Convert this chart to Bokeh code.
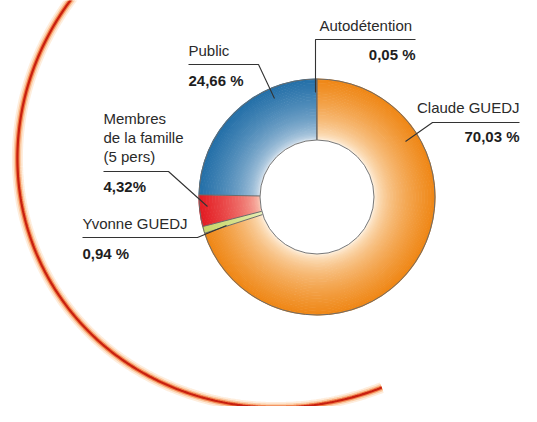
import numpy as np
from bokeh.plotting import figure
from bokeh.models import Range1d
from bokeh.core.properties import value
from bokeh.embed import file_html
from bokeh.resources import INLINE

# ---------------- data ----------------
categories = ["Claude GUEDJ", "Yvonne GUEDJ", "Membres\nde la famille\n(5 pers)", "Public", "Autodétention"]
shares = [70.03, 0.94, 4.32, 24.66, 0.05]
pct_labels = ["70,03 %", "0,94 %", "4,32%", "24,66 %", "0,05 %"]

# ---------------- styles / layout ----------------
W, H = 521, 406
outer_col = ["#EF8614", "#C8D66A", "#E31B22", "#236FA8", "#555555"]
inner_col = ["#FFF8EC", "#EEF4C6", "#FBD4C0", "#EEF2F7", "#555555"]

def sy(y):  # screen y (px from top) -> data y
    return H - y

p = figure(width=W, height=H, x_range=Range1d(0, W), y_range=Range1d(0, H),
           output_backend="svg", toolbar_location=None,
           x_axis_location=None, y_axis_location=None, min_border=0,
           background_fill_color="white", border_fill_color="white")
p.outline_line_color = None
p.grid.visible = False

# ---------------- decorative glowing arc (rotated ellipse) ----------------
cx_s, cy_s = 290.0, 150.0
a_ax, b_ax = 280.0, 266.0
u = np.array([-0.7071, 0.7071])
v = np.array([0.7071, 0.7071])
t = np.radians(np.linspace(-95, 66, 300))
xs = cx_s + a_ax * np.cos(t) * u[0] + b_ax * np.sin(t) * v[0]
ys = (cy_s + a_ax * np.cos(t) * u[1] + b_ax * np.sin(t) * v[1]) * 0.962
for lw, col, al in [(11, "#FEEBD8", 0.9), (7.5, "#FBC9A0", 0.9), (4.5, "#F07A45", 0.9), (2.2, "#C8200F", 1.0)]:
    p.line(xs, [sy(y) for y in ys], line_width=lw, line_color=col, line_alpha=al, line_cap="butt")

# ---------------- donut ----------------
cx, cy = 316.5, sy(196.5)
r_in, r_out = 57.0, 118.0
vals = np.array(shares, dtype=float)
cum = np.concatenate([[0], np.cumsum(vals)]) / vals.sum() * 2 * np.pi
top = np.pi / 2

def hex2rgb(h):
    h = h.lstrip("#")
    return np.array([int(h[i:i + 2], 16) for i in (0, 2, 4)], dtype=float)

def rgb2hex(c):
    c = np.clip(np.round(c), 0, 255).astype(int)
    return "#%02x%02x%02x" % tuple(c)

N = 40
radii = np.linspace(r_in, r_out, N + 1)
for i in range(len(vals)):
    a0 = top - cum[i + 1]
    a1 = top - cum[i]
    ci, co = hex2rgb(inner_col[i]), hex2rgb(outer_col[i])
    gam = 0.45 if i == 3 else 0.55
    for k in range(N):
        f = ((k + 0.5) / N) ** gam
        col = rgb2hex(ci + (co - ci) * f)
        p.annular_wedge(x=cx, y=cy, inner_radius=radii[k], outer_radius=radii[k + 1] + 0.6,
                        start_angle=a0, end_angle=a1, fill_color=col, line_color=None)

# outlines
for i in range(len(vals)):
    a = top - cum[i]
    p.segment(x0=cx + r_in * np.cos(a), y0=cy + r_in * np.sin(a),
              x1=cx + r_out * np.cos(a), y1=cy + r_out * np.sin(a),
              line_color="#6b6b6b", line_width=1)
p.circle(x=cx, y=cy, radius=r_out, fill_color=None, line_color="#6b6b6b", line_width=1)
p.circle(x=cx, y=cy, radius=r_in, fill_color="white", line_color="#777777", line_width=1)

# ---------------- labels & leader lines ----------------
font = value("Liberation Sans")
fs = "15px"
txt = "#2a2a2a"

# (name anchor, name align, pct anchor, pct align, leader polyline in screen coords)
layout = [
    ((519, 107), "right", (519, 136), "right", [(519, 122), (432, 122), (405, 141)]),
    ((82, 223), "left", (82, 253), "left", [(82, 237), (197, 237), (226, 225)]),
    ((103, 118), "left", (103, 186), "left", [(103, 171), (168, 171), (207, 206)]),
    ((188, 50), "left", (188, 80), "left", [(188, 64), (258, 64), (274, 98)]),
    ((319, 25), "left", (415, 54), "right", [(415, 39), (315, 39), (315, 92)]),
]

for i, (na, nal, pa, pal, poly) in enumerate(layout):
    lines = categories[i].split("\n")
    for j, ln in enumerate(lines):
        p.text(x=[na[0]], y=[sy(na[1] + 19 * j)], text=[ln], text_font=font, text_font_size=fs,
               text_color=txt, text_align=nal, text_baseline="middle")
    p.text(x=[pa[0]], y=[sy(pa[1])], text=[pct_labels[i]], text_font=font, text_font_size=fs,
           text_font_style="bold", text_color="#1e1e1e", text_align=pal, text_baseline="middle")
    p.line([q[0] for q in poly], [sy(q[1]) for q in poly], line_color="#333333", line_width=1.1)

open("out.html", "w").write(file_html(p, INLINE))
